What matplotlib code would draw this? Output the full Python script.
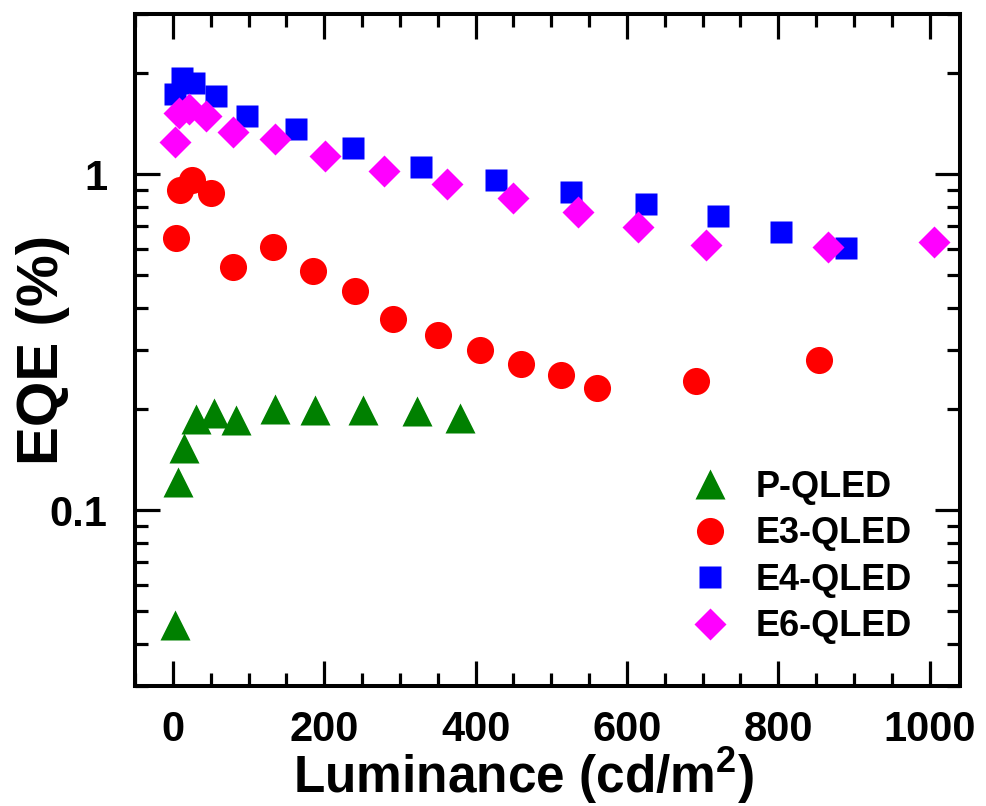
import matplotlib
matplotlib.use("Agg")
import matplotlib.pyplot as plt
from matplotlib.ticker import MultipleLocator, LogLocator, FuncFormatter, NullFormatter


# EQE vs luminance
p_lum = [3.5, 7, 15, 30, 54, 84, 135, 188, 251, 323, 379]
p_eqe = [0.0455, 0.121, 0.153, 0.187, 0.195, 0.186, 0.200, 0.199, 0.199, 0.197, 0.188]

e3_lum = [4, 10, 25, 50, 80, 133, 185, 241, 291, 350, 406, 460, 513, 561, 691, 854]
e3_eqe = [0.646, 0.90, 0.96, 0.88, 0.529, 0.609, 0.517, 0.45, 0.37, 0.333, 0.30,
          0.273, 0.253, 0.232, 0.243, 0.281]

e4_lum = [3, 11.5, 28, 57, 98, 163, 238, 328, 427, 526, 625, 720, 804, 889]
e4_eqe = [1.73, 1.93, 1.87, 1.71, 1.49, 1.36, 1.20, 1.054, 0.965, 0.888, 0.814,
          0.75, 0.674, 0.605]

e6_lum = [3, 8, 21, 44, 80, 135, 201, 279, 362, 449, 535, 615, 704, 866, 1006]
e6_eqe = [1.25, 1.52, 1.56, 1.49, 1.34, 1.27, 1.13, 1.02, 0.936, 0.852, 0.774,
          0.696, 0.614, 0.609, 0.627]

series_names = ["P-QLED", "E3-QLED", "E4-QLED", "E6-QLED"]

FONT = "Liberation Sans"
plt.rcParams["font.family"] = FONT
plt.rcParams["font.weight"] = "bold"
plt.rcParams["mathtext.fontset"] = "custom"
plt.rcParams["mathtext.rm"] = FONT + ":bold"
plt.rcParams["mathtext.bf"] = FONT + ":bold"


def plot_eqe():
    fig = plt.figure(figsize=(9.86, 8.06), dpi=100)
    ax = fig.add_axes([0.1369, 0.1489, 0.8367, 0.8337])

    ax.plot(p_lum, p_eqe, ls="none", marker="^", ms=21, color="#008000",
            mec="none", label=series_names[0])
    ax.plot(e3_lum, e3_eqe, ls="none", marker="o", ms=19.5, color="#ff0000",
            mec="none", label=series_names[1])
    ax.plot(e4_lum, e4_eqe, ls="none", marker="s", ms=16.5, color="#0000ff",
            mec="none", label=series_names[2])
    ax.plot(e6_lum, e6_eqe, ls="none", marker="D", ms=16.5, color="#ff00ff",
            mec="none", label=series_names[3])

    ax.set_yscale("log")
    ax.set_xlim(-50, 1040)
    ax.set_ylim(0.03, 3)

    ax.xaxis.set_major_locator(MultipleLocator(200))
    ax.xaxis.set_minor_locator(MultipleLocator(50))
    ax.yaxis.set_major_locator(LogLocator(base=10))
    ax.yaxis.set_minor_locator(LogLocator(base=10, subs=range(2, 10)))
    ax.yaxis.set_major_formatter(FuncFormatter(lambda v, pos: f"{v:g}"))
    ax.yaxis.set_minor_formatter(NullFormatter())

    for side in ax.spines.values():
        side.set_linewidth(2.9)
    ax.tick_params(which="both", direction="in", top=True, right=True, width=2.3)
    ax.tick_params(which="major", length=18, labelsize=30)
    ax.tick_params(axis="x", which="major", pad=17)
    ax.tick_params(axis="y", which="major", pad=20)
    ax.tick_params(which="minor", length=9.5)

    ax.set_xlabel(r"Luminance (cd/m$^\mathbf{2}$)", fontsize=37, fontweight="bold")
    ax.xaxis.set_label_coords(0.4715, -0.088)
    ax.xaxis.label.set_va("top")
    ax.set_ylabel("EQE (%)", fontsize=42, fontweight="bold")
    ax.yaxis.set_label_coords(-0.079, 0.5)

    ax.legend(loc="upper left", bbox_to_anchor=(0.675, 0.322), frameon=False,
              fontsize=26, handlelength=1.0, handletextpad=0.77,
              labelspacing=0.32, borderpad=0.0, borderaxespad=0.0)

    fig.savefig("out.png", dpi=100)


if __name__ == "__main__":
    plot_eqe()
